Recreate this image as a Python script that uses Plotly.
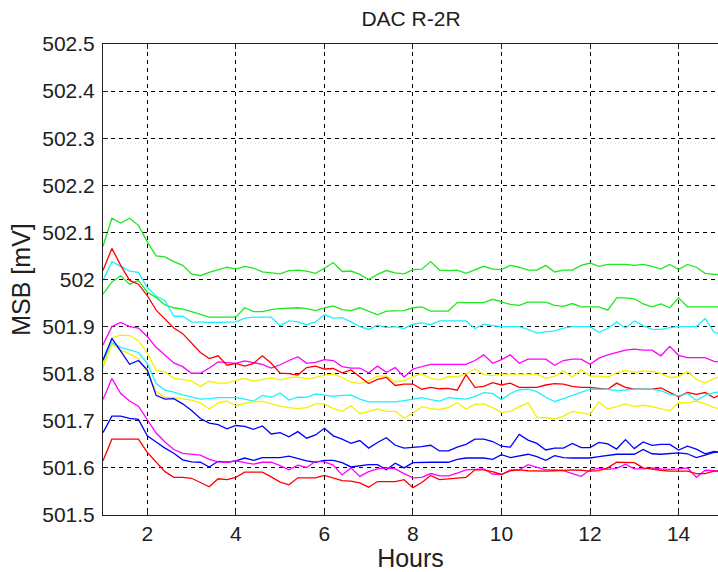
import plotly.graph_objects as go

hours = [1.0, 1.2, 1.4, 1.6, 1.8, 2.0, 2.2, 2.4, 2.6, 2.8,
         3.0, 3.2, 3.4, 3.6, 3.8, 4.0, 4.2, 4.4, 4.6, 4.8,
         5.0, 5.2, 5.4, 5.6, 5.8, 6.0, 6.2, 6.4, 6.6, 6.8,
         7.0, 7.2, 7.4, 7.6, 7.8, 8.0, 8.2, 8.4, 8.6, 8.8,
         9.0, 9.2, 9.4, 9.6, 9.8, 10.0, 10.2, 10.4, 10.6, 10.8,
         11.0, 11.2, 11.4, 11.6, 11.8, 12.0, 12.2, 12.4, 12.6, 12.8,
         13.0, 13.2, 13.4, 13.6, 13.8, 14.0, 14.2, 14.4, 14.6, 14.8, 15.0]

green_1 = [502.07, 502.13, 502.12, 502.13, 502.115, 502.08, 502.05, 502.048, 502.038, 502.03,
           502.012, 502.008, 502.015, 502.02, 502.026, 502.022, 502.028, 502.024, 502.016, 502.014,
           502.012, 502.019, 502.02, 502.018, 502.013, 502.024, 502.036, 502.017, 502.018, 502.011,
           502.0, 502.011, 502.019, 502.014, 502.012, 502.021, 502.022, 502.038, 502.02, 502.019,
           502.02, 502.013, 502.02, 502.028, 502.022, 502.021, 502.03, 502.026, 502.02, 502.02,
           502.03, 502.016, 502.02, 502.02, 502.03, 502.035, 502.028, 502.032, 502.032, 502.032,
           502.03, 502.032, 502.028, 502.022, 502.032, 502.021, 502.032, 502.026, 502.013, 502.011, 502.011]

green_2 = [501.969, 501.995, 502.008, 501.99, 501.998, 501.973, 501.962, 501.946, 501.94, 501.937,
           501.932, 501.926, 501.92, 501.92, 501.92, 501.92, 501.94, 501.932, 501.932, 501.936,
           501.938, 501.939, 501.94, 501.938, 501.934, 501.94, 501.944, 501.936, 501.934, 501.94,
           501.932, 501.925, 501.933, 501.933, 501.934, 501.94, 501.942, 501.933, 501.933, 501.933,
           501.951, 501.951, 501.951, 501.951, 501.958, 501.953, 501.947, 501.945, 501.952, 501.952,
           501.952, 501.945, 501.943, 501.949, 501.942, 501.942, 501.942, 501.935, 501.961, 501.961,
           501.959, 501.948, 501.942, 501.948, 501.94, 501.961, 501.942, 501.942, 501.942, 501.942, 501.942]

cyan_1 = [501.998, 502.038, 502.028, 502.018, 502.015, 501.983, 501.965, 501.955, 501.922, 501.922,
          501.91, 501.909, 501.909, 501.909, 501.909, 501.91, 501.918, 501.92, 501.92, 501.92,
          501.902, 501.912, 501.91, 501.904, 501.91, 501.925, 501.918, 501.919, 501.91, 501.9,
          501.894, 501.903, 501.898, 501.9, 501.896, 501.905, 501.908, 501.904, 501.912, 501.912,
          501.912, 501.912, 501.896, 501.905, 501.902, 501.9, 501.9, 501.9, 501.894, 501.886,
          501.889, 501.891, 501.897, 501.9, 501.9, 501.9, 501.888, 501.896, 501.91, 501.897,
          501.912, 501.902, 501.894, 501.894, 501.898, 501.9, 501.9, 501.9, 501.917, 501.888, 501.884]

magenta_1 = [501.861, 501.9, 501.909, 501.9, 501.897, 501.879, 501.856, 501.84, 501.823, 501.815,
             501.801, 501.801, 501.812, 501.825, 501.824, 501.822, 501.827, 501.824, 501.82, 501.812,
             501.819, 501.828, 501.836, 501.822, 501.824, 501.83, 501.828, 501.815, 501.812, 501.812,
             501.802, 501.816, 501.803, 501.813, 501.793, 501.81, 501.815, 501.82, 501.82, 501.82,
             501.82, 501.82, 501.828, 501.84, 501.822, 501.83, 501.84, 501.822, 501.831, 501.831,
             501.831, 501.818, 501.828, 501.831, 501.831, 501.82, 501.833, 501.84, 501.845, 501.85,
             501.852, 501.85, 501.85, 501.838, 501.858, 501.839, 501.834, 501.834, 501.834, 501.826, 501.824]

red_1 = [502.019, 502.066, 502.03, 501.998, 501.99, 501.966, 501.935, 501.915, 501.897, 501.885,
         501.865, 501.845, 501.832, 501.838, 501.818, 501.822, 501.816, 501.822, 501.838, 501.822,
         501.801, 501.8, 501.797, 501.813, 501.816, 501.81, 501.811, 501.802, 501.808, 501.794,
         501.779, 501.788, 501.792, 501.775, 501.778, 501.778, 501.767, 501.771, 501.768, 501.769,
         501.765, 501.798, 501.771, 501.773, 501.781, 501.776, 501.78, 501.771, 501.771, 501.771,
         501.776, 501.779, 501.778, 501.773, 501.771, 501.771, 501.769, 501.767, 501.78, 501.771,
         501.767, 501.767, 501.767, 501.77, 501.76, 501.751, 501.76, 501.756, 501.76, 501.749, 501.758]

yellow_1 = [501.815, 501.876, 501.882, 501.881, 501.87, 501.844, 501.807, 501.804, 501.79, 501.787,
            501.785, 501.773, 501.784, 501.78, 501.78, 501.786, 501.79, 501.784, 501.787, 501.791,
            501.787, 501.791, 501.793, 501.789, 501.792, 501.797, 501.799, 501.792, 501.782, 501.779,
            501.785, 501.795, 501.795, 501.783, 501.785, 501.794, 501.8, 501.79, 501.787, 501.794,
            501.793, 501.8, 501.81, 501.798, 501.796, 501.799, 501.799, 501.799, 501.799, 501.799,
            501.79, 501.795, 501.806, 501.793, 501.808, 501.795, 501.795, 501.793, 501.802, 501.807,
            501.803, 501.806, 501.805, 501.8, 501.792, 501.794, 501.805, 501.788, 501.78, 501.79, 501.796]

cyan_2 = [501.826, 501.866, 501.856, 501.85, 501.845, 501.822, 501.779, 501.765, 501.761, 501.755,
          501.75, 501.746, 501.747, 501.749, 501.749, 501.749, 501.746, 501.742, 501.754, 501.75,
          501.759, 501.744, 501.75, 501.75, 501.757, 501.755, 501.752, 501.754, 501.755, 501.746,
          501.74, 501.74, 501.74, 501.74, 501.743, 501.746, 501.749, 501.745, 501.742, 501.749,
          501.748, 501.746, 501.752, 501.76, 501.758, 501.745, 501.758, 501.766, 501.767, 501.762,
          501.75, 501.741, 501.747, 501.754, 501.76, 501.767, 501.767, 501.767, 501.764, 501.766,
          501.767, 501.767, 501.767, 501.764, 501.756, 501.753, 501.758, 501.743, 501.754, 501.76, 501.762]

yellow_2 = [501.812, 501.863, 501.85, 501.842, 501.832, 501.805, 501.762, 501.75, 501.749, 501.746,
            501.744, 501.738, 501.725, 501.738, 501.742, 501.732, 501.737, 501.741, 501.741, 501.736,
            501.731, 501.728, 501.726, 501.728, 501.736, 501.736, 501.726, 501.72, 501.732, 501.715,
            501.72, 501.725, 501.72, 501.72, 501.706, 501.716, 501.73, 501.726, 501.724, 501.728,
            501.739, 501.725, 501.735, 501.736, 501.728, 501.718, 501.72, 501.73, 501.738, 501.708,
            501.707, 501.704, 501.71, 501.72, 501.717, 501.714, 501.74, 501.725, 501.73, 501.736,
            501.73, 501.733, 501.73, 501.725, 501.721, 501.739, 501.738, 501.742, 501.736, 501.728, 501.724]

blue_1 = [501.829, 501.875, 501.848, 501.82, 501.828, 501.808, 501.754, 501.746, 501.747, 501.736,
          501.722, 501.705, 501.695, 501.692, 501.683, 501.69, 501.688, 501.682, 501.689, 501.672,
          501.675, 501.666, 501.677, 501.663, 501.67, 501.684, 501.668, 501.661, 501.652, 501.658,
          501.642, 501.654, 501.664, 501.648, 501.642, 501.643, 501.645, 501.648, 501.636, 501.636,
          501.644, 501.65, 501.661, 501.661, 501.656, 501.646, 501.644, 501.671, 501.659, 501.652,
          501.638, 501.642, 501.642, 501.652, 501.643, 501.643, 501.654, 501.651, 501.64, 501.66,
          501.641, 501.655, 501.648, 501.65, 501.65, 501.638, 501.646, 501.64, 501.63, 501.635, 501.632]

blue_2 = [501.675, 501.71, 501.71, 501.705, 501.703, 501.668, 501.655, 501.642, 501.631, 501.617,
          501.613, 501.612, 501.602, 501.614, 501.612, 501.615, 501.621, 501.616, 501.622, 501.622,
          501.622, 501.625, 501.62, 501.615, 501.612, 501.616, 501.616, 501.611, 501.602, 501.604,
          501.607, 501.607, 501.596, 501.61, 501.6, 501.611, 501.612, 501.612, 501.612, 501.612,
          501.618, 501.621, 501.621, 501.621, 501.618, 501.628, 501.622, 501.625, 501.629, 501.624,
          501.616, 501.626, 501.622, 501.621, 501.621, 501.621, 501.624, 501.627, 501.629, 501.629,
          501.629, 501.639, 501.63, 501.629, 501.63, 501.632, 501.63, 501.622, 501.627, 501.633, 501.634]

magenta_2 = [501.745, 501.79, 501.758, 501.742, 501.731, 501.703, 501.674, 501.655, 501.639, 501.631,
             501.629, 501.627, 501.618, 501.613, 501.612, 501.615, 501.611, 501.608, 501.612, 501.612,
             501.605, 501.596, 501.606, 501.601, 501.614, 501.613, 501.606, 501.585, 501.6, 501.582,
             501.592, 501.598, 501.6, 501.598, 501.588, 501.579, 501.58, 501.588, 501.583, 501.583,
             501.589, 501.596, 501.597, 501.598, 501.587, 501.586, 501.596, 501.596, 501.607, 501.601,
             501.596, 501.596, 501.594, 501.588, 501.582, 501.596, 501.599, 501.597, 501.599, 501.608,
             501.598, 501.598, 501.6, 501.598, 501.597, 501.598, 501.6, 501.58, 501.595, 501.594, 501.593]

red_2 = [501.615, 501.661, 501.661, 501.661, 501.661, 501.633, 501.613, 501.592, 501.58, 501.58,
         501.578, 501.569, 501.56, 501.577, 501.575, 501.58, 501.591, 501.591, 501.591, 501.581,
         501.57, 501.564, 501.579, 501.579, 501.579, 501.584, 501.578, 501.573, 501.572, 501.568,
         501.559, 501.571, 501.571, 501.571, 501.575, 501.558, 501.569, 501.584, 501.575, 501.577,
         501.578, 501.58, 501.596, 501.596, 501.592, 501.586, 501.594, 501.596, 501.594, 501.593,
         501.593, 501.594, 501.595, 501.596, 501.595, 501.593, 501.594, 501.6, 501.612, 501.612,
         501.611, 501.6, 501.597, 501.595, 501.593, 501.593, 501.593, 501.588, 501.588, 501.593, 501.593]

GREEN = "#1ee81e"
CYAN = "#1ff0ff"
RED = "#ff0000"
MAGENTA = "#ff00ff"
YELLOW = "#f5f000"
BLUE = "#0000ff"

series = [
    (green_1, GREEN), (green_2, GREEN), (cyan_1, CYAN), (magenta_1, MAGENTA),
    (yellow_1, YELLOW), (red_1, RED), (cyan_2, CYAN), (yellow_2, YELLOW),
    (blue_1, BLUE), (blue_2, BLUE), (magenta_2, MAGENTA), (red_2, RED),
]

y_ticks = [501.5, 501.6, 501.7, 501.8, 501.9, 502.0, 502.1, 502.2, 502.3, 502.4, 502.5]
y_tick_text = ["501.5", "501.6", "501.7", "501.8", "501.9", "502", "502.1", "502.2", "502.3", "502.4", "502.5"]
x_ticks = [2, 4, 6, 8, 10, 12, 14]

fig = go.Figure()
for vals, col in series:
    fig.add_trace(go.Scatter(x=hours, y=vals, mode="lines",
                             line=dict(color=col, width=1.3), showlegend=False,
                             hoverinfo="skip"))

FONT = "Liberation Sans, Arial, sans-serif"
fig.update_layout(
    width=718, height=572,
    margin=dict(l=103, r=0, t=44, b=57),
    paper_bgcolor="white", plot_bgcolor="white",
    font=dict(family=FONT, size=21, color="#202020"),
    title=dict(text="DAC R-2R", x=411 / 718, xref="container", xanchor="center",
               y=1 - 19 / 572, yref="container", yanchor="middle",
               font=dict(family=FONT, size=21, color="#202020")),
    showlegend=False,
)
fig.update_xaxes(
    range=[1, 14.89], tickvals=x_ticks, ticktext=[str(v) for v in x_ticks],
    showgrid=True, gridcolor="black", gridwidth=1, griddash="4px,4px",
    showline=True, linecolor="#202020", linewidth=1, mirror="ticks",
    ticks="inside", ticklen=5, tickcolor="#202020",
    zeroline=False, title=dict(text="Hours", standoff=5),
)
fig.update_yaxes(
    range=[501.5, 502.5], tickvals=y_ticks, ticktext=y_tick_text,
    showgrid=True, gridcolor="black", gridwidth=1, griddash="4px,4px",
    showline=True, linecolor="#202020", linewidth=1, mirror=False,
    ticks="inside", ticklen=5, tickcolor="#202020", ticklabelstandoff=3,
    zeroline=False, title=dict(text="MSB [mV]", standoff=4),
)
fig.write_html("out.html")
